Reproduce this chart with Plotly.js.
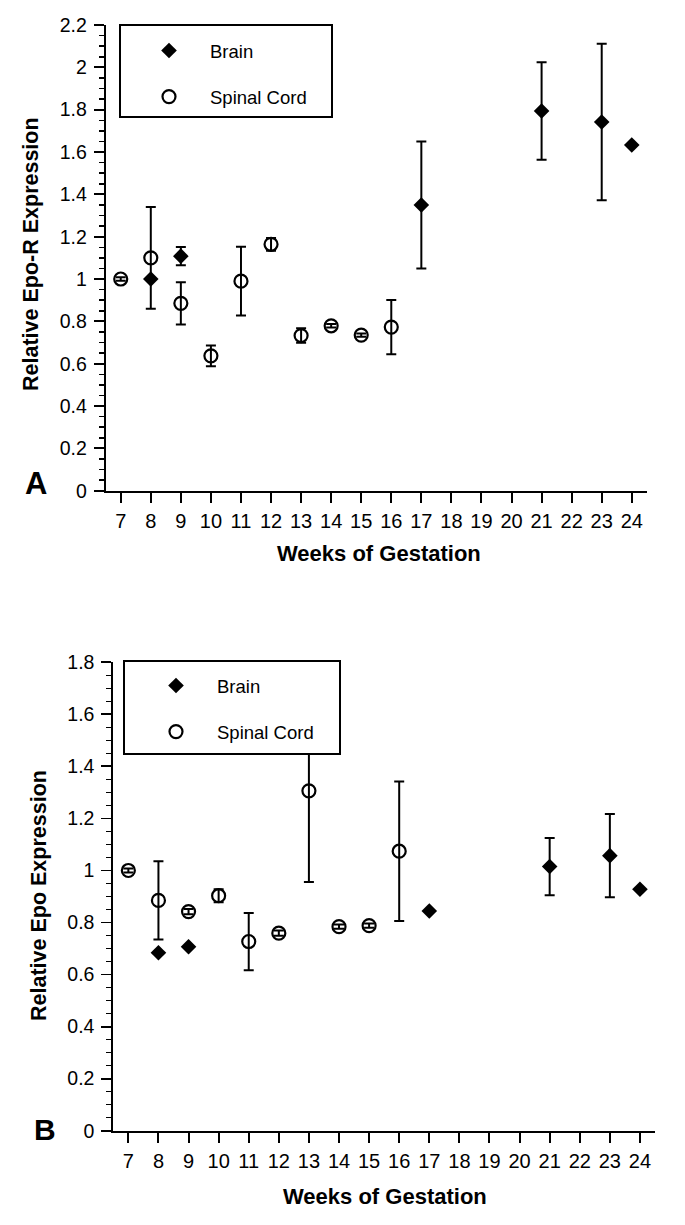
<!DOCTYPE html>
<html>
<head>
<meta charset="utf-8">
<script src="https://cdn.plot.ly/plotly-3.0.1.min.js"></script>
<style>html,body{margin:0;padding:0;background:#fff;}#chart{width:685px;height:1225px;}</style>
</head>
<body>
<div id="chart"></div>
<script>
// ---- Data ----
const weekTicks = [7,8,9,10,11,12,13,14,15,16,17,18,19,20,21,22,23,24];

// Panel A: Relative Epo-R expression
const weeksA_brain  = [8, 9, 17, 21, 23, 24];
const brainA        = [1.00, 1.108, 1.35, 1.794, 1.742, 1.633];
const brainA_err    = [0, 0.043, 0.30, 0.23, 0.37, 0];

const weeksA_spinal = [7, 8, 9, 10, 11, 12, 13, 14, 15, 16];
const spinalA       = [1.00, 1.10, 0.885, 0.637, 0.99, 1.164, 0.733, 0.779, 0.735, 0.773];
const spinalA_err   = [0.008, 0.24, 0.10, 0.049, 0.162, 0.03, 0.034, 0.008, 0.008, 0.128];

// Panel B: Relative Epo expression
const weeksB_brain  = [8, 9, 17, 21, 23, 24];
const brainB        = [0.684, 0.707, 0.844, 1.015, 1.057, 0.928];
const brainB_err    = [0, 0, 0, 0.11, 0.16, 0];

const weeksB_spinal = [7, 8, 9, 10, 11, 12, 13, 14, 15, 16];
const spinalB       = [1.00, 0.885, 0.842, 0.903, 0.727, 0.759, 1.306, 0.784, 0.788, 1.074];
const spinalB_err   = [0.008, 0.15, 0.01, 0.025, 0.11, 0.01, 0.35, 0.008, 0.008, 0.268];

// ---- Layout helpers ----
const W = 685, H = 1225;
const px = v => v / W;          // pixel x -> paper
const py = v => 1 - v / H;      // pixel y -> paper
const FONT = 'Liberation Sans, Arial, Helvetica, sans-serif';

const errStyle = arr => ({type:'data', array: arr, visible: true, color:'#000', thickness: 2, width: 5});

const traces = [
  {x: weeksA_spinal, y: spinalA, error_y: errStyle(spinalA_err), name: 'Spinal Cord',
   type:'scatter', mode:'markers', xaxis:'x', yaxis:'y', legend:'legend', legendgroup:'sA', legendrank: 2,
   marker:{symbol:'circle-open', size:13, color:'#000', line:{width:2.2, color:'#000'}}},
  {x: weeksA_brain, y: brainA, error_y: errStyle(brainA_err), name: 'Brain',
   type:'scatter', mode:'markers', xaxis:'x', yaxis:'y', legend:'legend', legendgroup:'bA', legendrank: 1,
   marker:{symbol:'diamond', size:12, color:'#000'}},
  {x: weeksB_spinal, y: spinalB, error_y: errStyle(spinalB_err), name: 'Spinal Cord',
   type:'scatter', mode:'markers', xaxis:'x2', yaxis:'y2', legend:'legend2', legendgroup:'sB', legendrank: 2,
   marker:{symbol:'circle-open', size:13, color:'#000', line:{width:2.2, color:'#000'}}},
  {x: weeksB_brain, y: brainB, error_y: errStyle(brainB_err), name: 'Brain',
   type:'scatter', mode:'markers', xaxis:'x2', yaxis:'y2', legend:'legend2', legendgroup:'bB', legendrank: 1,
   marker:{symbol:'diamond', size:12, color:'#000'}}
];

const xaxisBase = {
  range:[6.5, 24.5], tickmode:'array', tickvals: weekTicks, ticktext: weekTicks.map(String),
  ticks:'outside', ticklen:10, tickwidth:2, tickcolor:'#000',
  showline:true, linewidth:2, linecolor:'#000', showgrid:false, zeroline:false,
  tickfont:{family:FONT, size:20, color:'#000'}, ticklabelstandoff: 1, fixedrange:true
};
const yaxisBase = {
  dtick:0.2, tick0:0, ticks:'outside', ticklen:10, tickwidth:1.8, tickcolor:'#000',
  showline:true, linewidth:2, linecolor:'#000', showgrid:false, zeroline:false,
  tickfont:{family:FONT, size:19.5, color:'#000'}, ticklabelstandoff: 3,
  minor:{dtick:0.05, ticks:'outside', ticklen:5, tickwidth:1.5, tickcolor:'#000', showgrid:false},
  fixedrange:true
};

const legendBase = {
  bgcolor:'rgba(0,0,0,0)', borderwidth:0, font:{family:FONT, size:18.5, color:'#000'},
  xanchor:'left', yanchor:'top', itemwidth:72, traceorder:'grouped', tracegroupgap:19
};

const layout = {
  width: W, height: H, margin:{l:0, r:0, t:0, b:0}, paper_bgcolor:'#fff', plot_bgcolor:'#fff',
  showlegend: true,
  xaxis: Object.assign({}, xaxisBase, {domain:[px(105.7), px(646.8)], anchor:'y'}),
  yaxis: Object.assign({}, yaxisBase, {domain:[py(490.7), py(25)], range:[0, 2.2], anchor:'x'}),
  xaxis2: Object.assign({}, xaxisBase, {domain:[px(113.3), px(655)], anchor:'y2'}),
  yaxis2: Object.assign({}, yaxisBase, {domain:[py(1130.7), py(662.3)], range:[0, 1.8], anchor:'x2'}),
  legend: Object.assign({}, legendBase, {x: px(128), y: py(32)}),
  legend2: Object.assign({}, legendBase, {x: px(135), y: py(667)}),
  shapes: [
    {type:'rect', xref:'paper', yref:'paper', x0:px(120), x1:px(332), y0:py(117), y1:py(25),
     line:{color:'#000', width:2}, fillcolor:'#fff', layer:'above'},
    {type:'rect', xref:'paper', yref:'paper', x0:px(124), x1:px(340), y0:py(754), y1:py(661),
     line:{color:'#000', width:2}, fillcolor:'#fff', layer:'above'}
  ],
  annotations: [
    {text:'Relative Epo-R Expression', xref:'paper', yref:'paper', x:px(31), y:py(254), textangle:-90,
     showarrow:false, xanchor:'center', yanchor:'middle', font:{family:FONT, size:21.5, weight:'bold', color:'#000'}},
    {text:'Weeks of Gestation', xref:'paper', yref:'paper', x:px(379), y:py(553),
     showarrow:false, xanchor:'center', yanchor:'middle', font:{family:FONT, size:22, weight:'bold', color:'#000'}},
    {text:'A', xref:'paper', yref:'paper', x:px(36), y:py(483),
     showarrow:false, xanchor:'center', yanchor:'middle', font:{family:FONT, size:31, weight:'bold', color:'#000'}},
    {text:'Relative Epo Expression', xref:'paper', yref:'paper', x:px(39), y:py(896), textangle:-90,
     showarrow:false, xanchor:'center', yanchor:'middle', font:{family:FONT, size:21.5, weight:'bold', color:'#000'}},
    {text:'Weeks of Gestation', xref:'paper', yref:'paper', x:px(385), y:py(1196),
     showarrow:false, xanchor:'center', yanchor:'middle', font:{family:FONT, size:22, weight:'bold', color:'#000'}},
    {text:'B', xref:'paper', yref:'paper', x:px(45), y:py(1129),
     showarrow:false, xanchor:'center', yanchor:'middle', font:{family:FONT, size:30, weight:'bold', color:'#000'}}
  ]
};

Plotly.newPlot('chart', traces, layout, {staticPlot:true, displayModeBar:false});
</script>
</body>
</html>
